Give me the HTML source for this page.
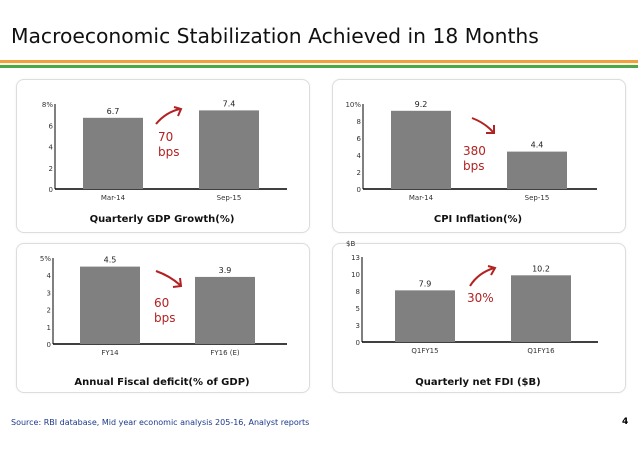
<!DOCTYPE html>
<html><head><meta charset="utf-8"><style>
body{margin:0;width:638px;height:452px;background:#fff;font-family:"DejaVu Sans","Liberation Sans",sans-serif;overflow:hidden;position:relative}
.panel{position:absolute;border:1px solid #ddd;border-radius:8px;background:#fff;box-shadow:0 0 2px #eee}
</style></head><body>
<div style="position:absolute;left:11px;top:24px;font-size:20.3px;color:#111">Macroeconomic Stabilization Achieved in 18 Months</div>
<div style="position:absolute;left:0;top:60px;width:638px;height:3px;background:#f0a040"></div>
<div style="position:absolute;left:0;top:63px;width:638px;height:2px;background:#fff6e0"></div>
<div style="position:absolute;left:0;top:65px;width:638px;height:3px;background:#4aa84a"></div>
<div class="panel" style="left:16px;top:79px;width:292px;height:152px"></div>
<div class="panel" style="left:332px;top:79px;width:292px;height:152px"></div>
<div class="panel" style="left:16px;top:243px;width:292px;height:148px"></div>
<div class="panel" style="left:332px;top:243px;width:292px;height:148px"></div>
<svg id="svg" width="638" height="452" style="position:absolute;left:0;top:0" font-family="DejaVu Sans, Liberation Sans, sans-serif"></svg>
<div style="position:absolute;left:11px;top:418px;font-size:8px;color:#1a3a8a">Source: RBI database, Mid year economic analysis 205-16, Analyst reports</div>
<div style="position:absolute;left:622px;top:417px;font-size:9px;font-weight:bold">4</div>
<script>
const gdpCats=["Mar-14","Sep-15"], gdpVals=[6.7,7.4], gdpTicks=["0","2","4","6","8%"];
const cpiCats=["Mar-14","Sep-15"], cpiVals=[9.2,4.4], cpiTicks=["0","2","4","6","8","10%"];
const fisCats=["FY14","FY16 (E)"], fisVals=[4.5,3.9], fisTicks=["0","1","2","3","4","5%"];
const fdiCats=["Q1FY15","Q1FY16"], fdiVals=[7.9,10.2], fdiTicks=["0","3","5","8","10","13"];
const NS="http://www.w3.org/2000/svg", svg=document.getElementById('svg');
function mk(t,a,txt){const e=document.createElementNS(NS,t);for(const k in a)e.setAttribute(k,a[k]);if(txt!=null)e.textContent=txt;svg.appendChild(e);return e;}
function chart(o){
 const y=v=>o.y0-(v/o.max)*(o.y0-o.top);
 let ax=mk('line',{x1:o.x0,y1:o.top,x2:o.x0,y2:o.y0,stroke:'#000','stroke-width':1});
 
 let bx=mk('line',{x1:o.x0,y1:o.y0,x2:o.x1,y2:o.y0,stroke:'#000','stroke-width':1.5});
 
 o.ticks.forEach((t,i)=>{const v=i*o.max/(o.ticks.length-1);
  let e=mk('text',{x:o.x0-2,y:y(v)+3,'font-size':7,'text-anchor':'end',fill:'#333'},t);
  });
 o.vals.forEach((v,i)=>{const bxp=o.bars[i];
  let r=mk('rect',{x:bxp,y:y(v),width:60,height:o.y0-y(v),fill:'#808080'});
  
  let l=mk('text',{x:bxp+30,y:y(v)-4,'font-size':8,'text-anchor':'middle',fill:'#222'},String(v));
  
  let c=mk('text',{x:bxp+30,y:o.y0+11,'font-size':7,'text-anchor':'middle',fill:'#333'},o.cats[i]);
  });
 let t=mk('text',{x:o.tx,y:o.ty,'font-size':10,'font-weight':'bold','text-anchor':'middle',fill:'#111'},o.title);
 
 o.note.forEach((s,i)=>{let n=mk('text',{x:o.nx,y:o.ny+i*15,'font-size':12,fill:'#b22222'},s);
  });
 let a=mk('path',{d:o.arrow,stroke:'#b22222','stroke-width':2,fill:'none'});
 
}
chart({id:'gdp',vals:gdpVals,cats:gdpCats,ticks:gdpTicks,max:8,x0:55,x1:287,y0:189,top:104,bars:[83,199],title:'Quarterly GDP Growth(%)',tx:162,ty:222,note:['70','bps'],nx:158,ny:141,arrow:'M156,124 Q166,112 180,109 M174,107 L181,109 L178,116'});
chart({id:'cpi',vals:cpiVals,cats:cpiCats,ticks:cpiTicks,max:10,x0:363,x1:597,y0:189,top:104,bars:[391,507],title:'CPI Inflation(%)',tx:478,ty:222,note:['380','bps'],nx:463,ny:155,arrow:'M472,118 Q485,123 493,132 M486,133 L494,133 L494,125'});
chart({id:'fis',vals:fisVals,cats:fisCats,ticks:fisTicks,max:5,x0:53,x1:287,y0:344,top:258,bars:[80,195],title:'Annual Fiscal deficit(% of GDP)',tx:162,ty:385,note:['60','bps'],nx:154,ny:307,arrow:'M156,271 Q170,276 180,285 M173,287 L181,286 L180,278'});
chart({id:'fdi',vals:fdiVals,cats:fdiCats,ticks:fdiTicks,max:13,x0:362,x1:598,y0:342,top:257,bars:[395,511],title:'Quarterly net FDI ($B)',tx:478,ty:385,note:['30%'],nx:467,ny:302,arrow:'M470,286 Q478,273 494,268 M488,266 L495,268 L491,275'});
let u=mk('text',{x:346,y:246,'font-size':7,fill:'#333'},'$B');

</script>
</body></html>
